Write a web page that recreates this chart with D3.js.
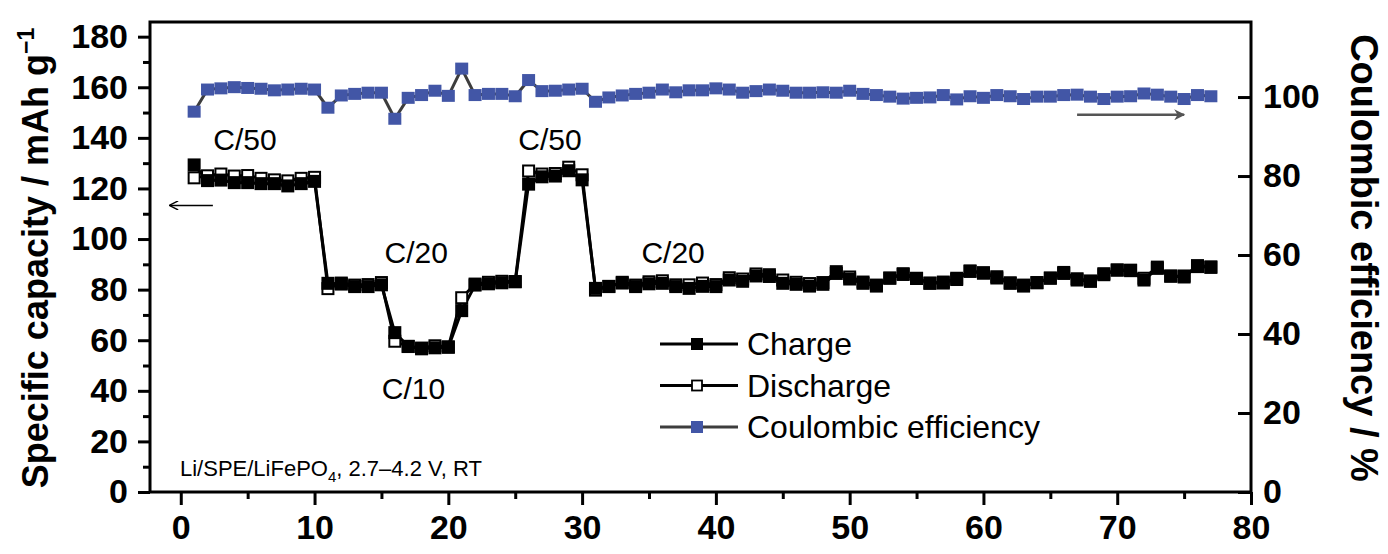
<!DOCTYPE html>
<html>
<head>
<meta charset="utf-8">
<script src="https://cdn.jsdelivr.net/npm/d3@7"></script>
<style>
  body { margin: 0; background: #fff; }
  svg { display: block; }
  text { font-family: "Liberation Sans", Arial, Helvetica, sans-serif; fill: #000; }
</style>
</head>
<body>
<svg id="chart" width="1388" height="554"></svg>
<script>
// Cycling data: Li/SPE/LiFePO4 cell, specific capacity (mAh/g) and coulombic efficiency (%)
const cycles = d3.range(1, 78);

const charge = [
  129.3, 123.1, 123.3, 122.3, 122.3, 121.9, 121.9, 121.0, 121.9, 122.8,
  82.5, 82.2, 81.2, 81.2, 81.9, 63.0, 57.6, 56.6, 57.0, 57.2,
  71.7, 81.8, 82.3, 82.7, 83.1, 121.7, 124.6, 124.9, 127.0, 123.4,
  80.5, 81.3, 82.6, 81.2, 82.3, 82.5, 81.2, 80.5, 81.3, 81.2,
  83.8, 83.3, 85.4, 85.2, 82.5, 82.1, 81.4, 82.1, 86.4, 84.2,
  82.5, 81.4, 84.5, 86.3, 84.5, 82.6, 82.6, 84.5, 87.2, 86.7,
  84.6, 82.5, 81.8, 82.7, 84.5, 86.4, 83.8, 83.3, 86.3, 87.7,
  87.5, 83.8, 88.4, 85.3, 85.4, 89.1, 88.8
];

const discharge = [
  124.2, 125.0, 125.7, 124.9, 125.1, 124.0, 123.4, 123.0, 124.0, 124.4,
  80.4, 82.6, 81.8, 82.0, 82.8, 59.6, 57.5, 56.9, 57.8, 57.4,
  76.8, 82.2, 82.9, 83.3, 83.2, 126.9, 125.7, 125.9, 128.4, 125.4,
  79.8, 81.2, 82.9, 81.8, 83.1, 83.5, 81.9, 81.9, 82.6, 82.0,
  84.7, 84.2, 86.2, 85.9, 83.8, 82.9, 82.4, 82.8, 87.1, 85.0,
  83.0, 81.8, 84.6, 86.0, 84.4, 82.5, 83.0, 84.0, 87.4, 86.5,
  85.1, 82.7, 81.4, 82.8, 84.6, 86.8, 84.3, 83.4, 85.9, 87.8,
  87.7, 84.5, 88.9, 85.4, 85.0, 89.5, 89.0
];

const efficiency = [
  96.3, 101.9, 102.2, 102.5, 102.3, 102.1, 101.7, 101.9, 102.1, 101.9,
  97.3, 100.4, 100.8, 101.1, 101.1, 94.5, 99.8, 100.5, 101.6, 100.3,
  107.2, 100.5, 100.8, 100.8, 100.2, 104.3, 101.5, 101.6, 101.9, 102.1,
  98.8, 99.9, 100.4, 100.8, 101.1, 101.9, 101.2, 101.7, 101.7, 102.2,
  101.9, 101.1, 101.5, 101.9, 101.6, 101.1, 101.1, 101.2, 101.1, 101.6,
  100.8, 100.5, 100.1, 99.6, 99.8, 99.9, 100.5, 99.4, 100.2, 99.8,
  100.5, 100.2, 99.5, 100.1, 100.1, 100.5, 100.6, 100.1, 99.5, 100.1,
  100.2, 100.9, 100.6, 100.1, 99.5, 100.5, 100.2
];

const cycleTicks = [0, 10, 20, 30, 40, 50, 60, 70, 80];
const cycleMinorTicks = [5, 15, 25, 35, 45, 55, 65, 75];
const capacityTicks = [0, 20, 40, 60, 80, 100, 120, 140, 160, 180];
const capacityMinorTicks = [10, 30, 50, 70, 90, 110, 130, 150, 170];
const efficiencyTicks = [0, 20, 40, 60, 80, 100];

const rateLabels = ["C/50", "C/20", "C/10", "C/50", "C/20"];
const seriesNames = ["Charge", "Discharge", "Coulombic efficiency"];

const BLUE = "#4256a6";
const GREY = "#3d3d3d";

const svg = d3.select("#chart");
const frame = { left: 150, right: 1251, top: 22, bottom: 492 };

const x = d3.scaleLinear().domain([-2.3, 80]).range([frame.left, frame.right]);
const yCap = d3.scaleLinear().domain([0, 185.8]).range([frame.bottom, frame.top]);
const yCE = d3.scaleLinear().domain([0, 119]).range([frame.bottom, frame.top]);

// ---- axes ----
function styleAxis(g, fontSize) {
  g.select(".domain").remove();
  g.selectAll(".tick line").attr("stroke", "#000").attr("stroke-width", 3);
  g.selectAll(".tick text")
    .attr("fill", "#000")
    .style("font-family", '"Liberation Sans", Arial, sans-serif')
    .style("font-weight", "bold")
    .style("font-size", fontSize + "px");
}

// left: capacity
svg.append("g").attr("transform", `translate(${frame.left},0)`)
  .call(d3.axisLeft(yCap).tickValues(capacityTicks).tickSize(12).tickPadding(10).tickFormat(d3.format("d")))
  .call(g => styleAxis(g, 34));
svg.append("g").attr("transform", `translate(${frame.left},0)`)
  .call(d3.axisLeft(yCap).tickValues(capacityMinorTicks).tickSize(7).tickFormat(""))
  .call(g => styleAxis(g, 34));

// bottom: cycle number
svg.append("g").attr("transform", `translate(0,${frame.bottom})`)
  .call(d3.axisBottom(x).tickValues(cycleTicks).tickSize(13).tickPadding(10).tickFormat(d3.format("d")))
  .call(g => styleAxis(g, 34));
svg.append("g").attr("transform", `translate(0,${frame.bottom})`)
  .call(d3.axisBottom(x).tickValues(cycleMinorTicks).tickSize(7).tickFormat(""))
  .call(g => styleAxis(g, 34));

// right: coulombic efficiency (ticks point inward)
svg.append("g").attr("transform", `translate(${frame.right},0)`)
  .call(d3.axisRight(yCE).tickValues(efficiencyTicks).tickSizeInner(-13).tickSizeOuter(0).tickPadding(12).tickFormat(d3.format("d")))
  .call(g => styleAxis(g, 34));

// frame
svg.append("rect")
  .attr("x", frame.left).attr("y", frame.top)
  .attr("width", frame.right - frame.left).attr("height", frame.bottom - frame.top)
  .attr("fill", "none").attr("stroke", "#000").attr("stroke-width", 3);

// axis titles
const leftTitle = svg.append("text")
  .attr("transform", `translate(48,258) rotate(-90)`)
  .attr("text-anchor", "middle")
  .style("font-weight", "bold").style("font-size", "36px");
leftTitle.append("tspan").text("Specific capacity / mAh g");
leftTitle.append("tspan").attr("dy", -14).style("font-size", "23px").text("\u22121");

svg.append("text")
  .attr("transform", `translate(1351,258) rotate(90)`)
  .attr("text-anchor", "middle")
  .style("font-weight", "bold").style("font-size", "38px")
  .text("Coulombic efficiency / %");

// ---- series ----
const pts = (vals) => cycles.map((c, i) => [c, vals[i]]);
const MS = 13;

// coulombic efficiency
svg.append("path")
  .datum(pts(efficiency))
  .attr("fill", "none").attr("stroke", GREY).attr("stroke-width", 3)
  .attr("d", d3.line().x(d => x(d[0])).y(d => yCE(d[1])));
svg.append("g").selectAll("rect")
  .data(pts(efficiency)).join("rect")
  .attr("x", d => x(d[0]) - MS / 2).attr("y", d => yCE(d[1]) - 6)
  .attr("width", MS).attr("height", 12)
  .attr("fill", BLUE);

// capacity lines
const capLine = d3.line().x(d => x(d[0])).y(d => yCap(d[1]));
svg.append("path").datum(pts(discharge))
  .attr("fill", "none").attr("stroke", "#000").attr("stroke-width", 3).attr("d", capLine);
svg.append("path").datum(pts(charge))
  .attr("fill", "none").attr("stroke", "#000").attr("stroke-width", 3).attr("d", capLine);

// discharge markers (open squares)
svg.append("g").selectAll("rect")
  .data(pts(discharge)).join("rect")
  .attr("x", d => x(d[0]) - MS / 2 + 1).attr("y", d => yCap(d[1]) - MS / 2 + 1)
  .attr("width", MS - 2).attr("height", MS - 2)
  .attr("fill", "#fff").attr("stroke", "#000").attr("stroke-width", 2);

// charge markers (filled squares)
svg.append("g").selectAll("rect")
  .data(pts(charge)).join("rect")
  .attr("x", d => x(d[0]) - MS / 2).attr("y", d => yCap(d[1]) - MS / 2)
  .attr("width", MS).attr("height", MS)
  .attr("fill", "#000");

// ---- rate annotations ----
const ratePos = [[4.8, 135.2], [17.6, 90.5], [17.4, 36.8], [27.6, 135.2], [36.8, 90.5]];
svg.append("g").selectAll("text")
  .data(rateLabels).join("text")
  .attr("x", (d, i) => x(ratePos[i][0]))
  .attr("y", (d, i) => yCap(ratePos[i][1]))
  .attr("text-anchor", "middle")
  .style("font-size", "30px")
  .text(d => d);

// cell description
const desc = svg.append("text").attr("x", 180).attr("y", 476).style("font-size", "22px");
desc.append("tspan").text("Li/SPE/LiFePO");
desc.append("tspan").attr("dy", 6).style("font-size", "15px").text("4");
desc.append("tspan").attr("dy", -6).text(", 2.7\u20134.2 V, RT");

// axis direction arrows
const defs = svg.append("defs");
defs.append("marker").attr("id", "headBlack")
  .attr("viewBox", "0 0 10 10").attr("refX", 9).attr("refY", 5)
  .attr("markerWidth", 10).attr("markerHeight", 9).attr("markerUnits", "userSpaceOnUse")
  .attr("orient", "auto")
  .append("path").attr("d", "M0,0 L10,5 L0,10").attr("fill", "none").attr("stroke", "#000").attr("stroke-width", 1.6);
defs.append("marker").attr("id", "headGrey")
  .attr("viewBox", "0 0 10 10").attr("refX", 9).attr("refY", 5)
  .attr("markerWidth", 18).attr("markerHeight", 11).attr("markerUnits", "userSpaceOnUse")
  .attr("orient", "auto")
  .append("path").attr("d", "M0,0 L10,5 L0,10 L3,5 Z").attr("fill", "#555");

svg.append("line")
  .attr("x1", x(2.4)).attr("x2", x(-0.8)).attr("y1", yCap(113.3)).attr("y2", yCap(113.3))
  .attr("stroke", "#000").attr("stroke-width", 1.5).attr("marker-end", "url(#headBlack)");
svg.append("line")
  .attr("x1", x(67)).attr("x2", x(75)).attr("y1", yCE(95.5)).attr("y2", yCE(95.5))
  .attr("stroke", "#555").attr("stroke-width", 2.5).attr("marker-end", "url(#headGrey)");

// ---- legend ----
const legend = svg.append("g").attr("transform", "translate(660,344)");
const legendRows = legend.selectAll("g").data(seriesNames).join("g")
  .attr("transform", (d, i) => `translate(0,${i * 41.5})`);
legendRows.append("line")
  .attr("x1", 0).attr("x2", 78).attr("y1", 0).attr("y2", 0)
  .attr("stroke", (d, i) => i === 2 ? GREY : "#000").attr("stroke-width", 3);
legendRows.append("rect")
  .attr("x", (d, i) => i === 1 ? 32 : 31).attr("y", (d, i) => i === 1 ? -5 : -6)
  .attr("width", (d, i) => i === 1 ? 10 : 12).attr("height", (d, i) => i === 1 ? 10 : 12)
  .attr("fill", (d, i) => i === 0 ? "#000" : i === 1 ? "#fff" : BLUE)
  .attr("stroke", (d, i) => i === 1 ? "#000" : "none").attr("stroke-width", 1.8);
legendRows.append("text")
  .attr("x", 87).attr("y", 11)
  .style("font-size", "32px")
  .text(d => d);
</script>
</body>
</html>
